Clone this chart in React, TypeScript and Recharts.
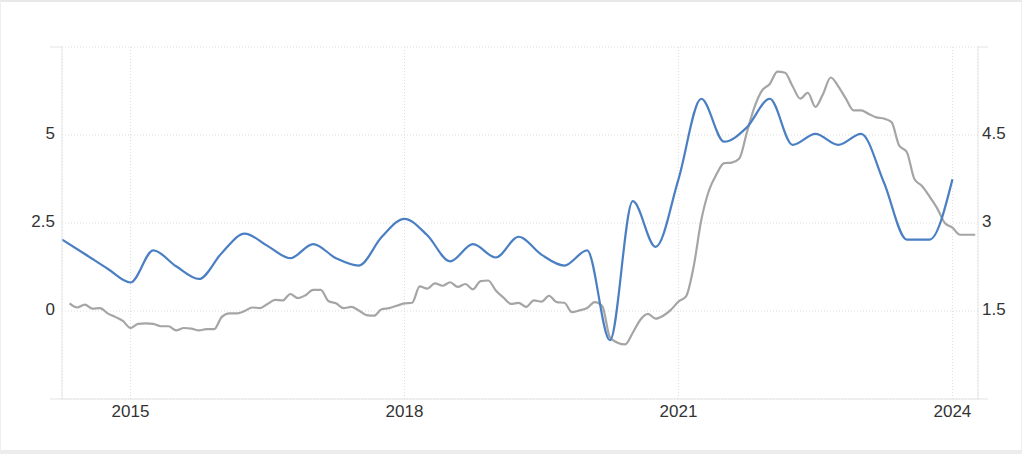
import React from 'react';
import { LineChart, Line, XAxis, YAxis, CartesianGrid } from 'recharts';

// quarterly series (left axis), first point at 2014 Q2
const blueStart = 2014.25;
const blueValues = [
  2.03, 1.62, 1.2, 0.81, 1.72, 1.27, 0.91, 1.65, 2.2, 1.85, 1.5, 1.9, 1.5, 1.29,
  2.1, 2.62, 2.15, 1.41, 1.9, 1.52, 2.11, 1.6, 1.29, 1.72, -0.83, 3.12, 1.82,
  3.74, 6.03, 4.81, 5.22, 6.03, 4.72, 5.03, 4.72, 5.03, 3.65, 2.03, 2.03, 3.74,
];

// monthly series (right axis), first point May 2014
const greyStart = 2014 + 4 / 12;
const greyValues = [
  1.63, 1.56, 1.61, 1.54, 1.55, 1.46, 1.4, 1.33, 1.21, 1.28, 1.29, 1.28,
  1.24, 1.24, 1.17, 1.21, 1.2, 1.17, 1.19, 1.19, 1.4, 1.46, 1.46, 1.5,
  1.56, 1.55, 1.62, 1.69, 1.68, 1.79, 1.72, 1.77, 1.86, 1.86, 1.67, 1.63,
  1.55, 1.57, 1.51, 1.43, 1.42, 1.53, 1.55, 1.59, 1.63, 1.64, 1.92, 1.88,
  1.97, 1.93, 1.99, 1.91, 1.96, 1.87, 2.01, 2.02, 1.85, 1.73, 1.62, 1.64,
  1.57, 1.68, 1.66, 1.76, 1.65, 1.64, 1.48, 1.51, 1.55, 1.65, 1.58, 1.05,
  0.96, 0.93, 1.13, 1.35, 1.45, 1.37, 1.42, 1.52, 1.66, 1.75, 2.26, 3.05,
  3.55, 3.83, 4.02, 4.03, 4.1, 4.55, 4.98, 5.26, 5.37, 5.58, 5.56, 5.33,
  5.12, 5.22, 4.98, 5.2, 5.48, 5.33, 5.12, 4.92, 4.92, 4.86, 4.8, 4.78,
  4.72, 4.32, 4.21, 3.75, 3.63, 3.45, 3.25, 3.0, 2.92, 2.8, 2.8, 2.8,
];

const xTicks = [2015, 2018, 2021, 2024];
const leftTicks = [-2.5, 0, 2.5, 5, 7.5];
const rightTicks = [0, 1.5, 3, 4.5, 6];

const blueData = blueValues.map((v, i) => ({ t: blueStart + i * 0.25, v }));
const greyData = greyValues.map((v, i) => ({ t: greyStart + i / 12, v }));

const font = '"Liberation Sans", Arial, sans-serif';

const YTick = (props: any) => {
  const { x, y, payload, side, min, max } = props;
  const val = payload.value;
  if (val === min || val === max) {
    return side === 'left'
      ? <line x1={x - 12} x2={x} y1={y} y2={y} stroke="#e3e3e3" />
      : <line x1={x} x2={x + 10} y1={y} y2={y} stroke="#e3e3e3" />;
  }
  return (
    <text
      x={side === 'left' ? x - 7 : x + 4}
      y={y + 4}
      textAnchor={side === 'left' ? 'end' : 'start'}
      fontSize={17}
      fontFamily={font}
      fill="#333"
    >
      {val}
    </text>
  );
};

export default function App() {
  return (
    <div
      style={{
        position: 'absolute',
        left: 0,
        top: 0,
        width: 1022,
        height: 454,
        background: '#fff',
        boxSizing: 'border-box',
        borderTop: '2px solid #e8e8e8',
        borderLeft: '1px solid #eee',
        borderRight: '1px solid #eee',
        borderBottom: '4px solid #ececec',
        overflow: 'hidden',
      }}
    >
      <div style={{ position: 'absolute', left: -1, top: -2 }}>
        <LineChart width={1022} height={454} margin={{ top: 47, right: 0, bottom: 25, left: 0 }}>
          <CartesianGrid stroke="#dedede" strokeDasharray="1 2" yAxisId="left" />
          <XAxis
            dataKey="t"
            type="number"
            domain={[2014.25, 2024.28]}
            ticks={xTicks}
            allowDuplicatedCategory={false}
            height={30}
            tickSize={0}
            tickMargin={6}
            tickLine={false}
            axisLine={{ stroke: '#e3e3e3' }}
            tick={{ fontSize: 17, fill: '#333', fontFamily: font }}
          />
          <YAxis
            yAxisId="left"
            orientation="left"
            width={62}
            domain={[-2.5, 7.5]}
            ticks={leftTicks}
            tickSize={0}
            tickMargin={0}
            tickLine={false}
            axisLine={{ stroke: '#e6e6e6' }}
            tick={<YTick side="left" min={-2.5} max={7.5} />}
          />
          <YAxis
            yAxisId="right"
            orientation="right"
            width={44}
            domain={[0, 6]}
            ticks={rightTicks}
            tickSize={0}
            tickMargin={0}
            tickLine={false}
            axisLine={{ stroke: '#e6e6e6' }}
            tick={<YTick side="right" min={0} max={6} />}
          />
          <Line
            yAxisId="right"
            data={greyData}
            dataKey="v"
            type="monotone"
            stroke="#a5a5a5"
            strokeWidth={2.2}
            dot={false}
            isAnimationActive={false}
          />
          <Line
            yAxisId="left"
            data={blueData}
            dataKey="v"
            type="monotone"
            stroke="#4a7fc3"
            strokeWidth={2.2}
            dot={false}
            isAnimationActive={false}
          />
        </LineChart>
      </div>
    </div>
  );
}
